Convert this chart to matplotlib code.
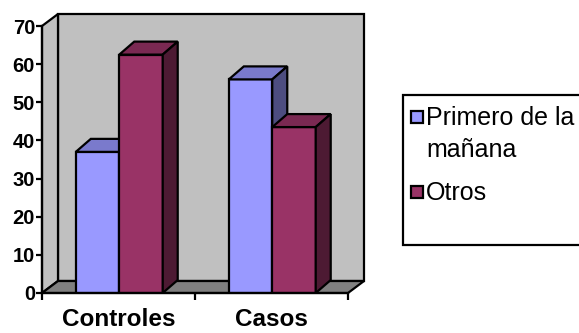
import matplotlib
matplotlib.use("Agg")
import matplotlib.pyplot as plt
from matplotlib.patches import Polygon, Rectangle

# Data
categories = ["Controles", "Casos"]
series_names = ["Primero de la\nmañana", "Otros"]
primero = [37, 56]
otros = [62.5, 43.5]
y_ticks = [0, 10, 20, 30, 40, 50, 60, 70]

# Colours: front, top, side of each series
front_cols = ["#9999FF", "#993366"]
top_cols = ["#7A7ACC", "#7A2952"]
side_cols = ["#4D4D80", "#4D1A33"]
WALL = "#C0C0C0"
FLOOR = "#808080"
LW = 1.6

W, H = 579, 333
fig = plt.figure(figsize=(W / 100, H / 100), dpi=100)
fig.patch.set_facecolor("white")
ax = fig.add_axes([42 / W, 40 / H, 306 / W, 267 / H])
ax.set_xlim(0, 2)
ax.set_ylim(0, 70)
ax.set_facecolor("none")

px_x = 306 / 2.0
px_y = 267 / 70.0


def depth(dx_px, dy_px):
    return dx_px / px_x, dy_px / px_y


# Walls and floor
wdx, wdy = depth(16, 12)
kw = dict(edgecolor="black", linewidth=LW, clip_on=False, joinstyle="miter")
ax.add_patch(Rectangle((wdx, wdy), 2, 70, facecolor=WALL, zorder=1, **kw))
ax.add_patch(Polygon([(0, 0), (wdx, wdy), (wdx, 70 + wdy), (0, 70)],
                     closed=True, facecolor=WALL, zorder=1.5, **kw))
ax.add_patch(Polygon([(0, 0), (2, 0), (2 + wdx, wdy), (wdx, wdy)],
                     closed=True, facecolor=FLOOR, zorder=1.5, **kw))

# 3D bars
bdx, bdy = depth(15, 13)
bar_w = 0.284
offsets = [-0.279, 0.005]
z = 3
for i, cat in enumerate(categories):
    c = i + 0.5
    for s, vals in enumerate([primero, otros]):
        v = vals[i]
        x0 = c + offsets[s]
        x1 = x0 + bar_w
        ax.bar(x0, v, width=bar_w, align="edge", color=front_cols[s],
               edgecolor="black", linewidth=LW, zorder=z)
        ax.add_patch(Polygon([(x0, v), (x1, v), (x1 + bdx, v + bdy), (x0 + bdx, v + bdy)],
                             closed=True, facecolor=top_cols[s], zorder=z, **kw))
        ax.add_patch(Polygon([(x1, 0), (x1 + bdx, bdy), (x1 + bdx, v + bdy), (x1, v)],
                             closed=True, facecolor=side_cols[s], zorder=z, **kw))
        z += 1

# Axes styling
for side in ["top", "right"]:
    ax.spines[side].set_visible(False)
for side in ["left", "bottom"]:
    ax.spines[side].set_linewidth(LW)
    ax.spines[side].set_zorder(20)

ax.set_yticks(y_ticks)
ax.set_yticklabels([str(t) for t in y_ticks], fontsize=14.5, fontweight="bold",
                   family="Liberation Sans")
ax.tick_params(axis="y", direction="out", length=4, width=LW, pad=1)

ax.set_xticks([0, 1, 2])
ax.set_xticklabels(["", "", ""])
ax.set_xticks([0.5, 1.5], minor=True)
ax.set_xticklabels(categories, minor=True, fontsize=17.5, fontweight="bold",
                   family="Liberation Sans")
ax.tick_params(axis="x", which="major", direction="out", length=5, width=LW)
ax.tick_params(axis="x", which="minor", length=0, pad=11)


# Legend box
def fx(px):
    return px / W


def fy(py):
    return (H - py) / H


fig.add_artist(Rectangle((fx(403), fy(245)), fx(W - 403 + 10), 150 / H,
                         transform=fig.transFigure, facecolor="white",
                         edgecolor="black", linewidth=LW))
entry_baselines = [125, 200]
line_step = 32
for s, name in enumerate(series_names):
    base = entry_baselines[s]
    fig.add_artist(Rectangle((fx(411), fy(base - 2)), 12 / W, 12 / H,
                             transform=fig.transFigure, facecolor=front_cols[s],
                             edgecolor="black", linewidth=LW))
    for j, line in enumerate(name.split("\n")):
        fig.text(fx(426), fy(base + j * line_step), line, fontsize=18,
                 family="Liberation Sans", va="baseline", ha="left")

fig.savefig("out.png", dpi=100)
